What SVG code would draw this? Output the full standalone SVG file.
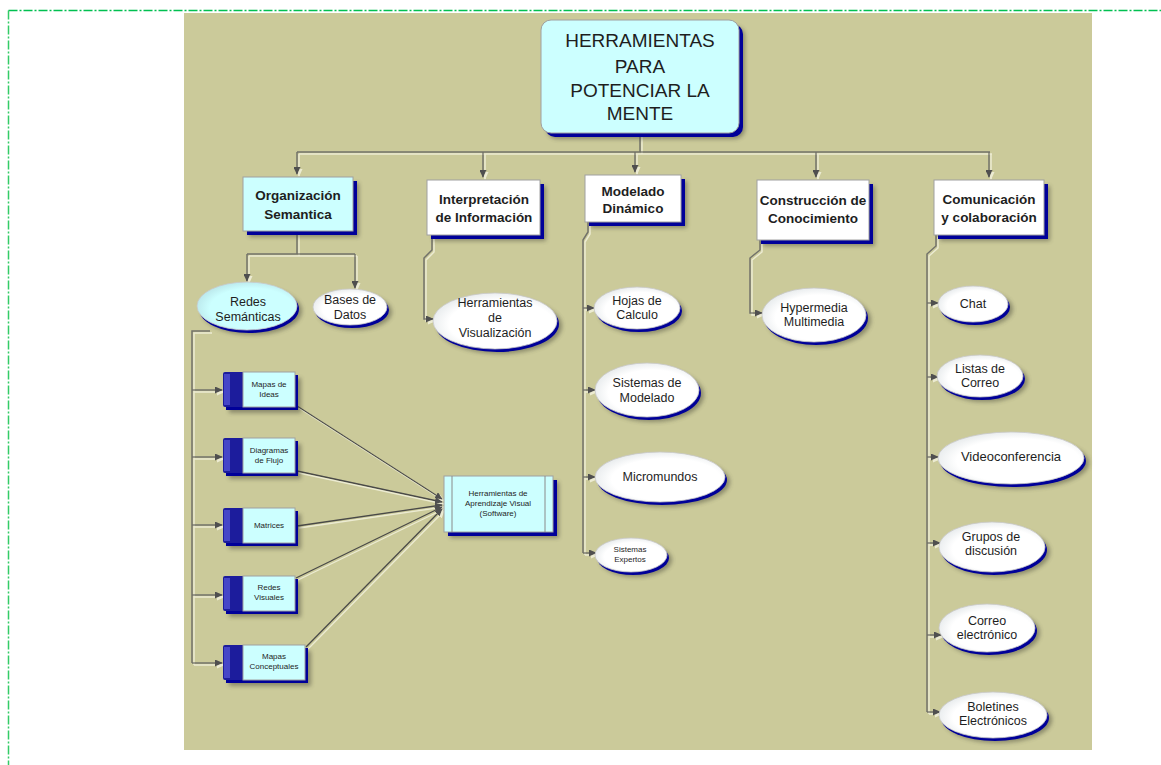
<svg xmlns="http://www.w3.org/2000/svg" width="1161" height="765" viewBox="0 0 1161 765">
  <style>
    .panel { fill: #cbca9a; }
    .frame-top { fill: none; stroke: #00c050; stroke-width: 1.5; stroke-dasharray: 9 2 2 2; }
    .frame-left { fill: none; stroke: #33cc66; stroke-width: 1.5; stroke-dasharray: 9 2 2 2; }
    .haze { fill: #3e3e30; opacity: 0.45; filter: url(#soft); }
    .rim { fill: #000099; }
    .card { fill: #ffffff; stroke: #a0a0a0; stroke-width: 1; }
    .cyan { fill: #ccffff; stroke: #a0a0a0; stroke-width: 1; }
    .bub { fill: url(#bubWhite); stroke: #c8c8c8; stroke-width: 0.8; }
    .bubc { fill: url(#bubCyan); stroke: #c8c8c8; stroke-width: 0.8; }
    .band { fill: #1c1c9c; }
    .bandhi { fill: #4646c8; }
    .link { fill: none; stroke: #72726a; stroke-width: 1.5; }
    .feed { fill: none; stroke: #4a4a48; stroke-width: 1.3; }
    text { font-family: "Liberation Sans", Arial, sans-serif; fill: #1e1e1e; text-anchor: middle; }
    .t-root { font-size: 19px; }
    .t-head { font-size: 13.5px; font-weight: bold; }
    .t-ell { font-size: 12.5px; }
    .t-small { font-size: 8px; }
  </style>
  <defs>
    <filter id="soft" x="-20%" y="-20%" width="140%" height="140%">
      <feGaussianBlur stdDeviation="2"/>
    </filter>
    <filter id="lineShade" x="-5%" y="-5%" width="110%" height="110%">
      <feOffset in="SourceAlpha" dx="1.5" dy="1.5" result="off"/>
      <feFlood flood-color="#ecebd2"/>
      <feComposite in2="off" operator="in" result="shade"/>
      <feMerge>
        <feMergeNode in="shade"/>
        <feMergeNode in="SourceGraphic"/>
      </feMerge>
    </filter>
    <radialGradient id="bubWhite" cx="0.55" cy="0.55" r="0.6">
      <stop offset="0.7" stop-color="#ffffff"/>
      <stop offset="1" stop-color="#e4e8ea"/>
    </radialGradient>
    <radialGradient id="bubCyan" cx="0.55" cy="0.55" r="0.6">
      <stop offset="0.7" stop-color="#ccffff"/>
      <stop offset="1" stop-color="#b8e4e8"/>
    </radialGradient>
    <marker id="tip" markerWidth="8" markerHeight="7" refX="7" refY="3.5" orient="auto" markerUnits="userSpaceOnUse">
      <path d="M0,0 L8,3.5 L0,7 z" fill="#505050"/>
    </marker>
  </defs>

  <!-- page frame and backdrop -->
  <path class="frame-top" d="M8.5,10.5 H1161"/>
  <path class="frame-left" d="M8.5,10.5 V765"/>
  <rect class="panel" x="184" y="13" width="908" height="737"/>

  <!-- connectors -->
  <g id="connectors" filter="url(#lineShade)">
    <!-- root to the five branches -->
    <path class="link" d="M640,133 V152"/>
    <path class="link" d="M297,152 H990"/>
    <path class="link" d="M297,152 V174" marker-end="url(#tip)"/>
    <path class="link" d="M483,152 V177" marker-end="url(#tip)"/>
    <path class="link" d="M635,152 V172" marker-end="url(#tip)"/>
    <path class="link" d="M816,152 V177" marker-end="url(#tip)"/>
    <path class="link" d="M989,152 V177" marker-end="url(#tip)"/>

    <!-- Organizacion Semantica children -->
    <path class="link" d="M297,231 V254"/>
    <path class="link" d="M247,254 H355"/>
    <path class="link" d="M247,254 V281" marker-end="url(#tip)"/>
    <path class="link" d="M355,254 V288" marker-end="url(#tip)"/>

    <!-- Redes Semanticas to the small boxes -->
    <path class="link" d="M210,331 H192 V663"/>
    <path class="link" d="M192,390 H222" marker-end="url(#tip)"/>
    <path class="link" d="M192,457 H222" marker-end="url(#tip)"/>
    <path class="link" d="M192,525 H222" marker-end="url(#tip)"/>
    <path class="link" d="M192,595 H222" marker-end="url(#tip)"/>
    <path class="link" d="M192,663 H222" marker-end="url(#tip)"/>

    <!-- small boxes to the software box -->
    <path class="feed" d="M297,406 L442,499" marker-end="url(#tip)"/>
    <path class="feed" d="M297,471 L442,502" marker-end="url(#tip)"/>
    <path class="feed" d="M297,526 L442,505" marker-end="url(#tip)"/>
    <path class="feed" d="M296,578 L442,507" marker-end="url(#tip)"/>
    <path class="feed" d="M306,647 L442,509" marker-end="url(#tip)"/>

    <!-- Interpretacion -->
    <path class="link" d="M432,236 V250 L424,258 V319 H433" marker-end="url(#tip)"/>

    <!-- Modelado Dinamico -->
    <path class="link" d="M588,222 V232 L583,240 V553"/>
    <path class="link" d="M583,308 H594" marker-end="url(#tip)"/>
    <path class="link" d="M583,390 H595" marker-end="url(#tip)"/>
    <path class="link" d="M583,477 H595" marker-end="url(#tip)"/>
    <path class="link" d="M583,553 H596" marker-end="url(#tip)"/>

    <!-- Construccion de Conocimiento -->
    <path class="link" d="M760,240 V250 L750,258 V313 H762" marker-end="url(#tip)"/>

    <!-- Comunicacion y colaboracion -->
    <path class="link" d="M936,235 V246 L927,254 V712"/>
    <path class="link" d="M927,303 H938" marker-end="url(#tip)"/>
    <path class="link" d="M927,377 H938" marker-end="url(#tip)"/>
    <path class="link" d="M927,457 H938" marker-end="url(#tip)"/>
    <path class="link" d="M927,543 H940" marker-end="url(#tip)"/>
    <path class="link" d="M927,635 H941" marker-end="url(#tip)"/>
    <path class="link" d="M927,712 H940" marker-end="url(#tip)"/>
  </g>

  <!-- root -->
  <g id="root">
    <rect class="haze" x="547" y="26" width="198" height="113" rx="10"/>
    <rect class="rim" x="545" y="24" width="198" height="113" rx="10"/>
    <rect class="cyan" x="541" y="20" width="198" height="113" rx="10"/>
    <text class="t-root" x="640" y="47">HERRAMIENTAS</text>
    <text class="t-root" x="640" y="73">PARA</text>
    <text class="t-root" x="640" y="97">POTENCIAR LA</text>
    <text class="t-root" x="640" y="120">MENTE</text>
  </g>

  <!-- first level -->
  <g id="organizacion">
    <rect class="haze" x="249" y="183" width="110" height="54"/>
    <rect class="rim" x="247" y="181" width="110" height="54"/>
    <rect class="cyan" x="243" y="177" width="110" height="54"/>
    <text class="t-head" x="298" y="200">Organización</text>
    <text class="t-head" x="298" y="219">Semantica</text>
  </g>
  <g id="interpretacion">
    <rect class="haze" x="433" y="186" width="113" height="55"/>
    <rect class="rim" x="431" y="184" width="113" height="55"/>
    <rect class="card" x="427" y="180" width="113" height="55"/>
    <text class="t-head" x="484" y="204">Interpretación</text>
    <text class="t-head" x="484" y="222">de Información</text>
  </g>
  <g id="modelado">
    <rect class="haze" x="591" y="181" width="96" height="47"/>
    <rect class="rim" x="589" y="179" width="96" height="47"/>
    <rect class="card" x="585" y="175" width="96" height="47"/>
    <text class="t-head" x="633" y="196">Modelado</text>
    <text class="t-head" x="633" y="213">Dinámico</text>
  </g>
  <g id="construccion">
    <rect class="haze" x="763" y="186" width="112" height="60"/>
    <rect class="rim" x="761" y="184" width="112" height="60"/>
    <rect class="card" x="757" y="180" width="112" height="60"/>
    <text class="t-head" x="813" y="205">Construcción de</text>
    <text class="t-head" x="813" y="223">Conocimiento</text>
  </g>
  <g id="comunicacion">
    <rect class="haze" x="940" y="186" width="110" height="55"/>
    <rect class="rim" x="938" y="184" width="110" height="55"/>
    <rect class="card" x="934" y="180" width="110" height="55"/>
    <text class="t-head" x="989" y="204">Comunicación</text>
    <text class="t-head" x="989" y="222">y colaboración</text>
  </g>

  <!-- Organizacion Semantica branch -->
  <g id="redes-semanticas">
    <ellipse class="haze" cx="252" cy="311" rx="50" ry="24"/>
    <ellipse class="rim" cx="249" cy="309" rx="50" ry="24"/>
    <ellipse class="bubc" cx="247" cy="306" rx="50" ry="24"/>
    <text class="t-ell" x="248" y="306">Redes</text>
    <text class="t-ell" x="248" y="321">Semánticas</text>
  </g>
  <g id="bases-de-datos">
    <ellipse class="haze" cx="355" cy="312" rx="37" ry="18"/>
    <ellipse class="rim" cx="352" cy="310" rx="37" ry="18"/>
    <ellipse class="bub" cx="350" cy="307" rx="37" ry="18"/>
    <text class="t-ell" x="350" y="304">Bases de</text>
    <text class="t-ell" x="350" y="319">Datos</text>
  </g>

  <g id="mapas-de-ideas">
    <rect class="haze" x="229" y="378" width="72" height="35"/>
    <rect class="rim" x="226" y="375" width="72" height="35"/>
    <rect class="band" x="223" y="372" width="22" height="35" rx="2"/>
    <rect class="bandhi" x="224" y="374" width="6" height="31"/>
    <rect class="cyan" x="243" y="372" width="52" height="35"/>
    <text class="t-small" x="269" y="387">Mapas de</text>
    <text class="t-small" x="269" y="397">Ideas</text>
  </g>
  <g id="diagramas-de-flujo">
    <rect class="haze" x="229" y="444" width="72" height="35"/>
    <rect class="rim" x="226" y="441" width="72" height="35"/>
    <rect class="band" x="223" y="438" width="22" height="35" rx="2"/>
    <rect class="bandhi" x="224" y="440" width="6" height="31"/>
    <rect class="cyan" x="243" y="438" width="52" height="35"/>
    <text class="t-small" x="269" y="453">Diagramas</text>
    <text class="t-small" x="269" y="463">de Flujo</text>
  </g>
  <g id="matrices">
    <rect class="haze" x="229" y="514" width="72" height="35"/>
    <rect class="rim" x="226" y="511" width="72" height="35"/>
    <rect class="band" x="223" y="508" width="22" height="35" rx="2"/>
    <rect class="bandhi" x="224" y="510" width="6" height="31"/>
    <rect class="cyan" x="243" y="508" width="52" height="35"/>
    <text class="t-small" x="269" y="528">Matrices</text>
  </g>
  <g id="redes-visuales">
    <rect class="haze" x="229" y="582" width="72" height="35"/>
    <rect class="rim" x="226" y="579" width="72" height="35"/>
    <rect class="band" x="223" y="576" width="22" height="35" rx="2"/>
    <rect class="bandhi" x="224" y="578" width="6" height="31"/>
    <rect class="cyan" x="243" y="576" width="52" height="35"/>
    <text class="t-small" x="269" y="590">Redes</text>
    <text class="t-small" x="269" y="600">Visuales</text>
  </g>
  <g id="mapas-conceptuales">
    <rect class="haze" x="229" y="651" width="82" height="35"/>
    <rect class="rim" x="226" y="648" width="82" height="35"/>
    <rect class="band" x="223" y="645" width="22" height="35" rx="2"/>
    <rect class="bandhi" x="224" y="647" width="6" height="31"/>
    <rect class="cyan" x="243" y="645" width="62" height="35"/>
    <text class="t-small" x="274" y="659">Mapas</text>
    <text class="t-small" x="274" y="669">Conceptuales</text>
  </g>

  <g id="aprendizaje-visual">
    <rect class="haze" x="450" y="482" width="109" height="56"/>
    <rect class="rim" x="448" y="480" width="109" height="56"/>
    <rect class="cyan" x="444" y="476" width="109" height="56"/>
    <path d="M452,476 V532 M545,476 V532" stroke="#8a8a8a" stroke-width="1" fill="none"/>
    <text class="t-small" x="498" y="496">Herramientas de</text>
    <text class="t-small" x="498" y="506">Aprendizaje Visual</text>
    <text class="t-small" x="498" y="516">(Software)</text>
  </g>

  <!-- Interpretacion branch -->
  <g id="visualizacion">
    <ellipse class="haze" cx="500" cy="326" rx="62" ry="28"/>
    <ellipse class="rim" cx="497" cy="324" rx="62" ry="28"/>
    <ellipse class="bub" cx="495" cy="321" rx="62" ry="28"/>
    <text class="t-ell" x="495" y="307">Herramientas</text>
    <text class="t-ell" x="495" y="322">de</text>
    <text class="t-ell" x="495" y="337">Visualización</text>
  </g>

  <!-- Modelado Dinamico branch -->
  <g id="hojas-de-calculo">
    <ellipse class="haze" cx="642" cy="313" rx="43" ry="21"/>
    <ellipse class="rim" cx="639" cy="311" rx="43" ry="21"/>
    <ellipse class="bub" cx="637" cy="308" rx="43" ry="21"/>
    <text class="t-ell" x="637" y="305">Hojas de</text>
    <text class="t-ell" x="637" y="319">Calculo</text>
  </g>
  <g id="sistemas-de-modelado">
    <ellipse class="haze" cx="652" cy="395" rx="52" ry="27"/>
    <ellipse class="rim" cx="649" cy="393" rx="52" ry="27"/>
    <ellipse class="bub" cx="647" cy="390" rx="52" ry="27"/>
    <text class="t-ell" x="647" y="387">Sistemas de</text>
    <text class="t-ell" x="647" y="402">Modelado</text>
  </g>
  <g id="micromundos">
    <ellipse class="haze" cx="665" cy="482" rx="65" ry="25"/>
    <ellipse class="rim" cx="662" cy="480" rx="65" ry="25"/>
    <ellipse class="bub" cx="660" cy="477" rx="65" ry="25"/>
    <text class="t-ell" x="660" y="481">Micromundos</text>
  </g>
  <g id="sistemas-expertos">
    <ellipse class="haze" cx="636" cy="560" rx="36" ry="17"/>
    <ellipse class="rim" cx="633" cy="558" rx="36" ry="17"/>
    <ellipse class="bub" cx="631" cy="555" rx="36" ry="17"/>
    <text class="t-small" x="630" y="552">Sistemas</text>
    <text class="t-small" x="630" y="562">Expertos</text>
  </g>

  <!-- Construccion branch -->
  <g id="hypermedia">
    <ellipse class="haze" cx="819" cy="320" rx="52" ry="27"/>
    <ellipse class="rim" cx="816" cy="318" rx="52" ry="27"/>
    <ellipse class="bub" cx="814" cy="315" rx="52" ry="27"/>
    <text class="t-ell" x="814" y="312">Hypermedia</text>
    <text class="t-ell" x="814" y="326">Multimedia</text>
  </g>

  <!-- Comunicacion branch -->
  <g id="chat">
    <ellipse class="haze" cx="978" cy="309" rx="35" ry="18"/>
    <ellipse class="rim" cx="975" cy="307" rx="35" ry="18"/>
    <ellipse class="bub" cx="973" cy="304" rx="35" ry="18"/>
    <text class="t-ell" x="973" y="308">Chat</text>
  </g>
  <g id="listas-de-correo">
    <ellipse class="haze" cx="985" cy="381" rx="43" ry="21"/>
    <ellipse class="rim" cx="982" cy="379" rx="43" ry="21"/>
    <ellipse class="bub" cx="980" cy="376" rx="43" ry="21"/>
    <text class="t-ell" x="980" y="373">Listas de</text>
    <text class="t-ell" x="980" y="387">Correo</text>
  </g>
  <g id="videoconferencia">
    <ellipse class="haze" cx="1016" cy="463" rx="73" ry="26"/>
    <ellipse class="rim" cx="1013" cy="461" rx="73" ry="26"/>
    <ellipse class="bub" cx="1011" cy="458" rx="73" ry="26"/>
    <text class="t-ell" x="1011" y="461" style="font-size:13px">Videoconferencia</text>
  </g>
  <g id="grupos-de-discusion">
    <ellipse class="haze" cx="997" cy="552" rx="53" ry="25"/>
    <ellipse class="rim" cx="994" cy="550" rx="53" ry="25"/>
    <ellipse class="bub" cx="992" cy="547" rx="53" ry="25"/>
    <text class="t-ell" x="991" y="541">Grupos de</text>
    <text class="t-ell" x="991" y="555">discusión</text>
  </g>
  <g id="correo-electronico">
    <ellipse class="haze" cx="992" cy="633" rx="48" ry="24"/>
    <ellipse class="rim" cx="989" cy="631" rx="48" ry="24"/>
    <ellipse class="bub" cx="987" cy="628" rx="48" ry="24"/>
    <text class="t-ell" x="987" y="625">Correo</text>
    <text class="t-ell" x="987" y="639">electrónico</text>
  </g>
  <g id="boletines-electronicos">
    <ellipse class="haze" cx="998" cy="720" rx="54" ry="23"/>
    <ellipse class="rim" cx="995" cy="718" rx="54" ry="23"/>
    <ellipse class="bub" cx="993" cy="715" rx="54" ry="23"/>
    <text class="t-ell" x="993" y="711">Boletines</text>
    <text class="t-ell" x="993" y="725">Electrónicos</text>
  </g>
</svg>
